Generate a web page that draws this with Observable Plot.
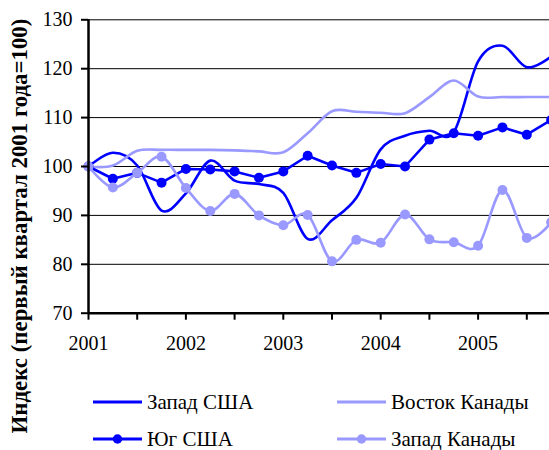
<!DOCTYPE html>
<html><head><meta charset="utf-8">
<script src="https://cdn.jsdelivr.net/npm/d3@7"></script>
<script src="https://cdn.jsdelivr.net/npm/@observablehq/plot@0.6"></script>
<style>
body{margin:0;background:#fff;}
#chart{position:relative;width:549px;height:450px;overflow:hidden;background:#fff;color:#000;}
.legend-item{position:absolute;display:flex;align-items:center;height:20px;white-space:nowrap;line-height:1;}
.legend-item svg{display:block;margin-right:5px;}
</style></head>
<body><div id="chart"></div>
<script>
// Data (index, first quarter 2001 = 100)
const quarters = [2001.00, 2001.25, 2001.50, 2001.75, 2002.00, 2002.25, 2002.50, 2002.75,
                  2003.00, 2003.25, 2003.50, 2003.75, 2004.00, 2004.25, 2004.50, 2004.75,
                  2005.00, 2005.25, 2005.50, 2005.75];
const zapadUSA    = [100, 102.8, 100.2, 91.0, 94.5, 101.2, 97.1, 96.4, 94.6, 85.2, 89.0, 93.6, 103.5, 106.3, 107.3, 107.0, 121.5, 124.7, 120.3, 122.5];
const vostokCanada= [100, 100.2, 103.2, 103.4, 103.4, 103.4, 103.3, 103.1, 102.9, 106.8, 111.3, 111.2, 111.0, 110.9, 114.2, 117.6, 114.3, 114.2, 114.2, 114.2];
const yugUSA      = [100, 97.5, 98.7, 96.7, 99.5, 99.4, 99.0, 97.7, 99.0, 102.2, 100.2, 98.7, 100.5, 100.0, 105.5, 106.8, 106.3, 108.0, 106.5, 109.5];
const zapadCanada = [100, 95.7, 98.7, 102.0, 95.6, 90.9, 94.4, 90.0, 88.0, 90.1, 80.6, 85.0, 84.4, 90.2, 85.1, 84.5, 83.8, 95.2, 85.4, 88.6];

const seriesNames = ["Запад США", "Восток Канады", "Юг США", "Запад Канады"];
const yearLabels = ["2001", "2002", "2003", "2004", "2005"];
const xTickPositions = [2001, 2001.5, 2002, 2002.5, 2003, 2003.5, 2004, 2004.5, 2005, 2005.5];
const yTicks = [70, 80, 90, 100, 110, 120, 130];
const titleText = "Индекс (первый квартал 2001 года=100)";

const FONT = '"Liberation Serif", "Times New Roman", serif';

const DARK = "#0000FF", LIGHT = "#9999FF";
const styles = {
  "Запад США":     {color: DARK,  marker: false, curve: "cardinal", values: zapadUSA},
  "Восток Канады": {color: LIGHT, marker: false, curve: "cardinal", values: vostokCanada},
  "Юг США":        {color: DARK,  marker: true,  curve: "linear",   values: yugUSA},
  "Запад Канады":  {color: LIGHT, marker: true,  curve: "cardinal", values: zapadCanada}
};

const marks = [];
marks.push(Plot.ruleY(yTicks.filter(d => d > 70), {stroke: "#000", strokeWidth: 1}));
for (const name of seriesNames) {
  const s = styles[name];
  const rows = quarters.map((t, i) => ({t, v: s.values[i]}));
  marks.push(Plot.line(rows, {x: "t", y: "v", stroke: s.color, strokeWidth: 2.6, curve: s.curve}));
  if (s.marker) marks.push(Plot.dot(rows, {x: "t", y: "v", r: 5, fill: s.color, stroke: null}));
}
marks.push(Plot.ruleX([2001], {stroke: "#000", strokeWidth: 2.5}));
marks.push(Plot.ruleY([70], {stroke: "#000", strokeWidth: 2.5}));
marks.push(Plot.axisY(yTicks, {tickSize: 7, tickPadding: 9, fontSize: 20, fontFamily: FONT, strokeWidth: 2, label: null, tickFormat: d => String(d)}));
marks.push(Plot.axisX(xTickPositions, {tickSize: 7, tickPadding: 16, fontSize: 20, fontFamily: FONT, strokeWidth: 2, label: null,
  tickFormat: d => Number.isInteger(d) ? yearLabels[d - 2001] : ""}));

const chart = Plot.plot({
  width: 549, height: 370,
  marginTop: 19.3, marginBottom: 57.3, marginLeft: 88, marginRight: 0,
  x: {domain: [2001, 2005.733]},
  y: {domain: [70, 130]},
  style: {fontFamily: FONT, fontSize: "20px", color: "#000", background: "#fff"},
  marks
});
chart.querySelectorAll("text, tspan").forEach(t => { t.style.fontFamily = FONT; t.style.fontSize = "20px"; });

const root = document.getElementById("chart");
root.appendChild(chart);

// Title: rotated, fitted to the reference length (~415px)
const title = document.createElement("div");
title.textContent = titleText;
Object.assign(title.style, {position: "absolute", whiteSpace: "nowrap", fontWeight: "bold", lineHeight: "1", fontFamily: FONT});
root.appendChild(title);
{
  const cv = document.createElement("canvas").getContext("2d");
  cv.font = `bold 20px ${FONT}`;
  const w20 = cv.measureText(titleText).width;
  const fs = Math.max(16, Math.min(26, 20 * 415 / w20));
  title.style.fontSize = fs + "px";
  title.style.left = "20px";
  title.style.top = "225.5px";
  title.style.transform = "translate(-50%,-50%) rotate(-90deg)";
}

// Legend (Excel order: row-wise)
const legendPos = [
  {left: 93, center: 401.7}, {left: 337, center: 401.7},
  {left: 93, center: 439.3}, {left: 337, center: 439.3}
];
seriesNames.forEach((name, i) => {
  const s = styles[name];
  const item = document.createElement("div");
  item.className = "legend-item";
  item.style.left = legendPos[i].left + "px";
  item.style.top = (legendPos[i].center - 10) + "px";
  const ns = "http://www.w3.org/2000/svg";
  const sw = document.createElementNS(ns, "svg");
  sw.setAttribute("width", 49); sw.setAttribute("height", 12);
  const ln = document.createElementNS(ns, "line");
  ln.setAttribute("x1", 0); ln.setAttribute("x2", 49); ln.setAttribute("y1", 6); ln.setAttribute("y2", 6);
  ln.setAttribute("stroke", s.color); ln.setAttribute("stroke-width", 3);
  sw.appendChild(ln);
  if (s.marker) {
    const c = document.createElementNS(ns, "circle");
    c.setAttribute("cx", 24.5); c.setAttribute("cy", 6); c.setAttribute("r", 4.7); c.setAttribute("fill", s.color);
    sw.appendChild(c);
  }
  item.appendChild(sw);
  const label = document.createElement("span");
  label.textContent = name;
  label.style.fontFamily = FONT;
  label.style.fontSize = "21px";
  label.style.lineHeight = "20px";
  item.appendChild(label);
  root.appendChild(item);
});
</script>
</body></html>
